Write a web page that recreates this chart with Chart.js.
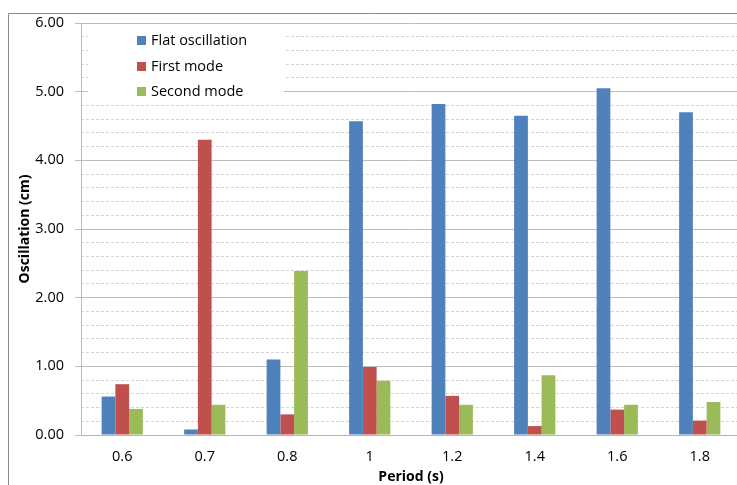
<!DOCTYPE html>
<html>
<head>
<meta charset="utf-8">
<script src="https://cdn.jsdelivr.net/npm/chart.js@4"></script>
<style>
  html, body { margin: 0; background: #fff; overflow: hidden; }
  .wrap { position: relative; width: 737px; height: 485px; overflow: hidden; }
  canvas { position: absolute; left: 0; top: 0; }
  .legend { position: absolute; left: 88px; top: 26px; width: 196px; height: 72px; background: #fff;
            font: 14.5px "Open Sans", sans-serif; color: #000; }
  .legend div { position: absolute; left: 49px; height: 20px; line-height: 20px; white-space: nowrap; }
  .legend span { display: inline-block; width: 9px; height: 9px; margin-right: 5px; vertical-align: 0px; }
</style>
</head>
<body>
<div class="wrap">
  <canvas id="myChart" width="760" height="485"></canvas>
  <div class="legend" id="legend"></div>
</div>
<script>
// data
const periods = ['0.6', '0.7', '0.8', '1', '1.2', '1.4', '1.6', '1.8'];
const flatOscillation = [0.56, 0.08, 1.10, 4.57, 4.82, 4.65, 5.05, 4.70];
const firstMode = [0.74, 4.30, 0.30, 0.99, 0.57, 0.13, 0.37, 0.21];
const secondMode = [0.38, 0.44, 2.39, 0.79, 0.44, 0.87, 0.44, 0.48];
const seriesNames = ['Flat oscillation', 'First mode', 'Second mode'];
const seriesColors = ['#4f81bd', '#c0504d', '#9bbb59'];
const yTicks = [0, 1, 2, 3, 4, 5, 6];

const fontFamily = '"Open Sans", sans-serif';

// white background + outer chart frame (left and top edges only, the rest is off-page)
const framePlugin = {
  id: 'frame',
  beforeDraw: function (chart) {
    const ctx = chart.ctx;
    ctx.save();
    ctx.fillStyle = '#fff';
    ctx.fillRect(0, 0, chart.width, chart.height);
    ctx.strokeStyle = '#8a8a8a';
    ctx.lineWidth = 1;
    ctx.beginPath();
    ctx.moveTo(8.5, chart.height);
    ctx.lineTo(8.5, 13.5);
    ctx.lineTo(737, 13.5);
    ctx.stroke();
    ctx.restore();
  }
};

const data = {
  labels: periods,
  datasets: [flatOscillation, firstMode, secondMode].map(function (values, i) {
    return {
      label: seriesNames[i],
      data: values,
      backgroundColor: seriesColors[i],
      borderWidth: 0,
      barPercentage: 1.0,
      categoryPercentage: 0.5
    };
  })
};

const config = {
  type: 'bar',
  data,
  plugins: [framePlugin],
  options: {
    responsive: false,
    animation: false,
    layout: { padding: { left: 8, top: 23, right: 19, bottom: 0 } },
    plugins: {
      legend: { display: false },
      tooltip: { enabled: false }
    },
    scales: {
      x: {
        grid: { display: false, drawTicks: false },
        border: { display: true, color: '#b3b3b3', width: 1 },
        ticks: { color: '#000', font: { family: fontFamily, size: 14.5 }, padding: 13, maxRotation: 0 },
        title: {
          display: true, text: 'Period (s)', color: '#000',
          font: { family: fontFamily, size: 14, weight: 'bold' },
          padding: { top: 0, bottom: 0 }
        },
        afterFit: function (scale) { scale.height = 50; }
      },
      y: {
        min: yTicks[0],
        max: yTicks[yTicks.length - 1],
        afterBuildTicks: function (scale) {
          scale.ticks = yTicks.map(function (v) { return { value: v }; });
        },
        grid: { color: '#bdbdbd', tickLength: 6, tickColor: '#bdbdbd' },
        border: { display: true, color: '#bdbdbd' },
        ticks: {
          color: '#000', font: { family: fontFamily, size: 14.5 }, padding: 11,
          callback: function (v) { return Number(v).toFixed(2); }
        },
        title: {
          display: true, text: 'Oscillation (cm)', color: '#000',
          font: { family: fontFamily, size: 14, weight: 'bold' },
          padding: { top: 9, bottom: 0 }
        },
        afterFit: function (scale) { scale.width = 73; }
      },
      yMinor: {
        position: 'right',
        min: 0,
        max: 6,
        ticks: { display: false, stepSize: 0.2 },
        grid: {
          drawTicks: false,
          color: function (ctx) {
            const v = ctx.tick ? ctx.tick.value : 0;
            return Math.abs(v - Math.round(v)) < 1e-6 ? 'rgba(0,0,0,0)' : '#d4d4d4';
          }
        },
        border: { display: false, dash: [3, 2] },
        afterFit: function (scale) { scale.width = 0; }
      }
    }
  }
};

const myChart = new Chart(document.getElementById('myChart'), config);

// legend inside the plot
const legend = document.getElementById('legend');
const rowTops = [4, 29.5, 55];
seriesNames.forEach(function (name, i) {
  const row = document.createElement('div');
  row.style.top = rowTops[i] + 'px';
  row.innerHTML = '<span style="background:' + seriesColors[i] + '"></span>' + name;
  legend.appendChild(row);
});
</script>
</body>
</html>
